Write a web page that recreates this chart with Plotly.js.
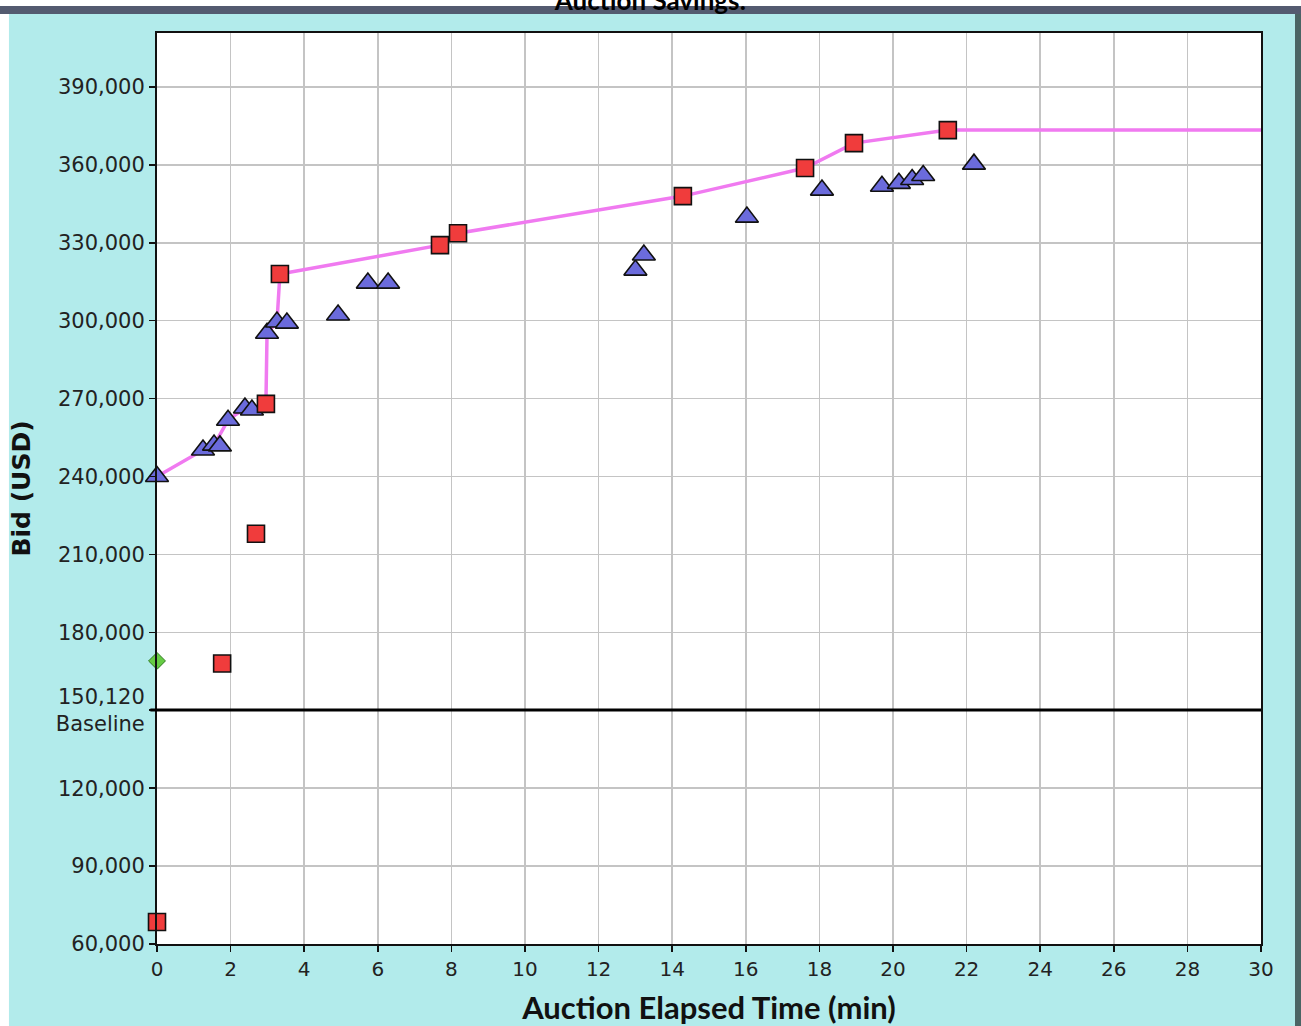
<!DOCTYPE html>
<html>
<head>
<meta charset="utf-8">
<script src="https://cdn.plot.ly/plotly-3.0.1.min.js"></script>
<style>html,body{margin:0;padding:0;background:#b2ebeb;}#chart{width:1301px;height:1026px;}</style>
</head>
<body>
<div id="chart"></div>
<script>
// Leading bid line (time in min, bid in USD)
const leadTime = [0, 1.25, 1.55, 1.93, 2.39, 2.58, 2.96, 2.99, 3.26, 3.34, 7.69, 8.18, 14.29, 17.61, 18.94, 21.49, 30];
const leadBid  = [240000, 250200, 252100, 261700, 266400, 266600, 268000, 295200, 299500, 318000, 329100, 333700, 348000, 358800, 368400, 373400, 373400];

// Blue triangle bids
const triTime = [0, 1.25, 1.55, 1.71, 1.93, 2.39, 2.58, 2.99, 3.26, 3.53, 4.92, 5.73, 6.28, 13.0, 13.23, 16.03, 18.07, 19.70, 20.16, 20.52, 20.82, 22.2];
const triBid  = [240000, 250200, 252100, 251800, 261700, 266400, 265600, 295200, 299500, 299100, 302200, 314500, 314500, 319500, 325300, 339900, 350300, 351800, 352900, 354400, 355900, 360300];

// Red square bids
const sqTime = [0, 1.77, 2.69, 2.96, 3.34, 7.69, 8.18, 14.29, 17.61, 18.94, 21.49];
const sqBid  = [68500, 168000, 218000, 268000, 318000, 329100, 333700, 348000, 358800, 368400, 373400];

// Green diamond bid
const dmTime = [0];
const dmBid  = [169000];

// Baseline
const baselineValue = 150120;

// Axis ticks
const xTicks = [0, 2, 4, 6, 8, 10, 12, 14, 16, 18, 20, 22, 24, 26, 28, 30];
const yTickVals = [60000, 90000, 120000, 150120, 180000, 210000, 240000, 270000, 300000, 330000, 360000, 390000];
const yTickText = ["60,000", "90,000", "120,000", "150,120<br>Baseline", "180,000", "210,000", "240,000", "270,000", "300,000", "330,000", "360,000", "390,000"];

const traces = [
  {x: leadTime, y: leadBid, type: 'scatter', mode: 'lines',
   line: {color: '#f07af0', width: 3.5}, hoverinfo: 'skip', cliponaxis: false},
  {x: triTime, y: triBid, type: 'scatter', mode: 'markers', cliponaxis: false,
   marker: {symbol: 'triangle-up', size: 20, color: '#6b6bdc', line: {color: '#111', width: 1.6}}},
  {x: sqTime, y: sqBid, type: 'scatter', mode: 'markers', cliponaxis: false,
   marker: {symbol: 'square', size: 17, color: '#f03c3c', line: {color: '#111', width: 1.6}}},
  {x: dmTime, y: dmBid, type: 'scatter', mode: 'markers', cliponaxis: false,
   marker: {symbol: 'diamond', size: 13, color: '#66cc44', line: {color: '#2f7a20', width: 1}}}
];

const layout = {
  width: 1301, height: 1026,
  paper_bgcolor: '#b2ebeb', plot_bgcolor: '#ffffff',
  margin: {l: 157, r: 40, t: 33, b: 82, pad: 0},
  showlegend: false,
  title: {text: '<b>Auction Savings:</b>', x: 0.5, xref: 'container', xanchor: 'center', y: 0.999, yref: 'container', yanchor: 'middle',
          font: {family: 'Lato, "Liberation Sans", sans-serif', size: 26, color: '#000'}},
  xaxis: {
    range: [0, 30], tickvals: xTicks, ticktext: xTicks.map(String),
    showgrid: true, gridcolor: '#c4c4c4', gridwidth: 1.5, zeroline: false,
    showline: true, linecolor: '#111', linewidth: 2, mirror: true,
    ticks: 'outside', ticklen: 6, tickcolor: '#111', tickwidth: 1.5,
    tickfont: {family: '"DejaVu Sans", sans-serif', size: 20, color: '#222'},
    title: {text: '<b>Auction Elapsed Time (min)</b>', standoff: 18,
            font: {family: 'Lato, "Liberation Sans", sans-serif', size: 31, color: '#111'}},
    automargin: false
  },
  yaxis: {
    range: [60000, 410800], tickvals: yTickVals, ticktext: yTickText,
    showgrid: true, gridcolor: '#c4c4c4', gridwidth: 1.5, zeroline: false,
    showline: true, linecolor: '#111', linewidth: 2, mirror: true,
    ticks: 'outside', ticklen: 6, tickcolor: '#111', tickwidth: 1.5,
    tickfont: {family: '"DejaVu Sans", sans-serif', size: 21, color: '#222'},
    title: {text: '<b>Bid (USD)</b>', standoff: 18,
            font: {family: '"DejaVu Sans", sans-serif', size: 25, color: '#111'}},
    automargin: false
  },
  shapes: [
    {type: 'line', xref: 'paper', yref: 'y', x0: -0.006, x1: 1, y0: baselineValue, y1: baselineValue,
     line: {color: '#000', width: 3}, layer: 'above'},
    {type: 'rect', xref: 'paper', yref: 'paper', x0: -0.15, x1: 1.05, y0: 1.0296, y1: 1.04,
     fillcolor: '#ffffff', line: {width: 0}, layer: 'below'},
    {type: 'rect', xref: 'paper', yref: 'paper', x0: -0.15, x1: 1.05, y0: 1.0209, y1: 1.0296,
     fillcolor: '#545b70', line: {width: 0}, layer: 'below'},
    {type: 'rect', xref: 'paper', yref: 'paper', x0: -0.15, x1: -0.1341, y0: -0.1, y1: 1.0209,
     fillcolor: '#ffffff', line: {width: 0}, layer: 'below'},
    {type: 'rect', xref: 'paper', yref: 'paper', x0: 1.0308, x1: 1.05, y0: -0.1, y1: 1.0209,
     fillcolor: '#4a6464', line: {width: 0}, layer: 'below'}
  ]
};

Plotly.newPlot('chart', traces, layout, {displayModeBar: false, staticPlot: true});
</script>
</body>
</html>
